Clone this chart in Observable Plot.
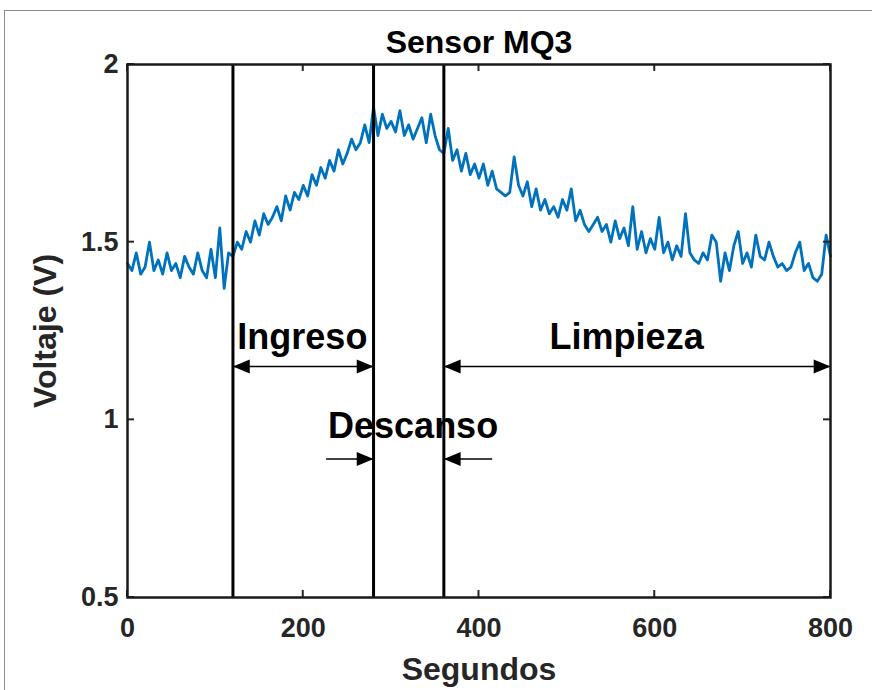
<!DOCTYPE html>
<html><head><meta charset="utf-8">
<script src="https://cdn.jsdelivr.net/npm/d3@7"></script>
<script src="https://cdn.jsdelivr.net/npm/@observablehq/plot@0.6"></script>
<style>
html,body{margin:0;padding:0;background:#fff;}
#wrap{position:relative;width:872px;height:690px;overflow:hidden;}
#border{position:absolute;left:4px;top:10px;width:900px;height:700px;border:1px solid #8c8c8c;}
#chart{position:absolute;left:0;top:0;}
</style></head><body>
<div id="wrap"><div id="border"></div><div id="chart"></div></div>
<script>
const title = "Sensor MQ3";
const xLabel = "Segundos";
const yLabel = "Voltaje (V)";
const sampleStep = 5; // seconds between readings
const voltage = [
  1.44, 1.42, 1.47, 1.41, 1.43, 1.50, 1.42, 1.45, 1.41, 1.47,
  1.42, 1.44, 1.40, 1.46, 1.43, 1.41, 1.47, 1.42, 1.40, 1.48,
  1.40, 1.54, 1.37, 1.47, 1.46, 1.50, 1.48, 1.53, 1.50, 1.56,
  1.52, 1.58, 1.55, 1.57, 1.60, 1.56, 1.63, 1.59, 1.64, 1.62,
  1.66, 1.63, 1.69, 1.66, 1.71, 1.68, 1.73, 1.70, 1.76, 1.72,
  1.75, 1.79, 1.76, 1.78, 1.83, 1.78, 1.88, 1.80, 1.86, 1.82,
  1.84, 1.81, 1.87, 1.80, 1.83, 1.79, 1.82, 1.85, 1.78, 1.86,
  1.80, 1.76, 1.75, 1.82, 1.73, 1.76, 1.70, 1.75, 1.69, 1.72,
  1.68, 1.72, 1.66, 1.70, 1.65, 1.64, 1.63, 1.64, 1.74, 1.66,
  1.63, 1.67, 1.60, 1.65, 1.59, 1.62, 1.58, 1.60, 1.57, 1.62,
  1.59, 1.65, 1.56, 1.59, 1.55, 1.53, 1.55, 1.57, 1.53, 1.55,
  1.50, 1.56, 1.51, 1.54, 1.49, 1.60, 1.48, 1.53, 1.47, 1.51,
  1.48, 1.57, 1.47, 1.50, 1.45, 1.49, 1.46, 1.58, 1.47, 1.45,
  1.44, 1.47, 1.45, 1.52, 1.50, 1.39, 1.47, 1.42, 1.49, 1.53,
  1.44, 1.47, 1.43, 1.52, 1.46, 1.45, 1.50, 1.46, 1.43, 1.44,
  1.42, 1.43, 1.47, 1.50, 1.42, 1.44, 1.40, 1.39, 1.41, 1.52,
  1.46
];
const phaseBoundaries = [120, 280, 360];
const phaseNames = ["Ingreso", "Descanso", "Limpieza"];
const phaseLabelX = [199, 325, 568];
const phaseLabelY = [1.2, 0.95, 1.2];
const arrowX1 = [120, 360, 226, 415];
const arrowX2 = [280, 800, 280, 360];
const arrowY = [1.15, 1.15, 0.89, 0.89];
const headRightX = [280, 800, 280];
const headRightY = [1.15, 1.15, 0.89];
const headLeftX = [120, 360, 360];
const headLeftY = [1.15, 1.15, 0.89];
const xTicks = [0, 200, 400, 600, 800];
const yTicks = [0.5, 1, 1.5, 2];
const yTickLabels = ["0.5", "1", "1.5", "2"];

const data = voltage.map((v, i) => ({t: i * sampleStep, v}));
const arrows = arrowX1.map((x1, i) => ({x1, x2: arrowX2[i], y: arrowY[i]}));
const headsRight = headRightX.map((x, i) => ({x, y: headRightY[i]}));
const headsLeft = headLeftX.map((x, i) => ({x, y: headLeftY[i]}));
const labels = phaseNames.map((name, i) => ({name, x: phaseLabelX[i], y: phaseLabelY[i]}));

// filled arrow head with its tip at the origin, pointing right
const arrowHead = {
  draw(ctx, size) {
    const r = Math.sqrt(size / Math.PI);
    ctx.moveTo(0, 0);
    ctx.lineTo(-r * 2.4, -r);
    ctx.lineTo(-r * 2.4, r);
    ctx.closePath();
  }
};

// MATLAB-style inward ticks on all four sides, placed with Plot's own scales
function inwardTicks(index, scales, values, dims) {
  const len = 7;
  const left = dims.marginLeft, right = dims.width - dims.marginRight;
  const top = dims.marginTop, bottom = dims.height - dims.marginBottom;
  const g = d3.create("svg:g").attr("stroke", "#262626").attr("stroke-width", 2);
  for (const t of xTicks) {
    const x = scales.x(t);
    g.append("line").attr("x1", x).attr("x2", x).attr("y1", bottom).attr("y2", bottom - len);
    g.append("line").attr("x1", x).attr("x2", x).attr("y1", top).attr("y2", top + len);
  }
  for (const t of yTicks) {
    const y = scales.y(t);
    g.append("line").attr("y1", y).attr("y2", y).attr("x1", left).attr("x2", left + len);
    g.append("line").attr("y1", y).attr("y2", y).attr("x1", right).attr("x2", right - len);
  }
  return g.node();
}

const font = "'Liberation Sans', Arial, Helvetica, sans-serif";
const axisText = {fontSize: 27, fontWeight: "bold", fill: "#262626", label: null};

const chart = Plot.plot({
  width: 872, height: 690,
  marginLeft: 127, marginRight: 42, marginTop: 64, marginBottom: 93,
  style: {fontFamily: font, background: "transparent", overflow: "visible"},
  x: {domain: [0, 800]},
  y: {domain: [0.5, 2]},
  marks: [
    Plot.lineY(data, {x: "t", y: "v", stroke: "#0072BD", strokeWidth: 2.8, strokeLinejoin: "round"}),
    Plot.ruleX(phaseBoundaries, {stroke: "black", strokeWidth: 3}),
    Plot.link(arrows, {x1: "x1", x2: "x2", y1: "y", y2: "y", stroke: "black", strokeWidth: 1.5}),
    Plot.dot(headsRight, {x: "x", y: "y", symbol: arrowHead, r: 7, fill: "black", stroke: null}),
    Plot.dot(headsLeft, {x: "x", y: "y", symbol: arrowHead, r: 7, fill: "black", stroke: null, rotate: 180}),
    Plot.text(labels, {x: "x", y: "y", text: "name", fontSize: 36, fontWeight: "bold", lineAnchor: "bottom", fill: "black"}),
    inwardTicks,
    Plot.frame({stroke: "#1a1a1a", strokeWidth: 2.5}),
    Plot.axisX(xTicks, {anchor: "bottom", tickSize: 0, tickPadding: 20, ...axisText, tickFormat: d => String(d)}),
    Plot.axisY(yTicks, {anchor: "left", tickSize: 0, tickPadding: 9, ...axisText, tickFormat: d => yTickLabels[yTicks.indexOf(d)]}),
    Plot.text([title], {frameAnchor: "top", dy: -12, lineAnchor: "bottom", textAnchor: "middle", fontSize: 32, fontWeight: "bold", fill: "black"}),
    Plot.text([xLabel], {frameAnchor: "bottom", dy: 82, lineAnchor: "bottom", textAnchor: "middle", fontSize: 32, fontWeight: "bold", fill: "#262626"}),
    Plot.text([yLabel], {frameAnchor: "left", dx: -72, rotate: -90, lineAnchor: "bottom", textAnchor: "middle", fontSize: 32, fontWeight: "bold", fill: "#262626"})
  ]
});
document.getElementById("chart").appendChild(chart);
</script>
</body></html>
